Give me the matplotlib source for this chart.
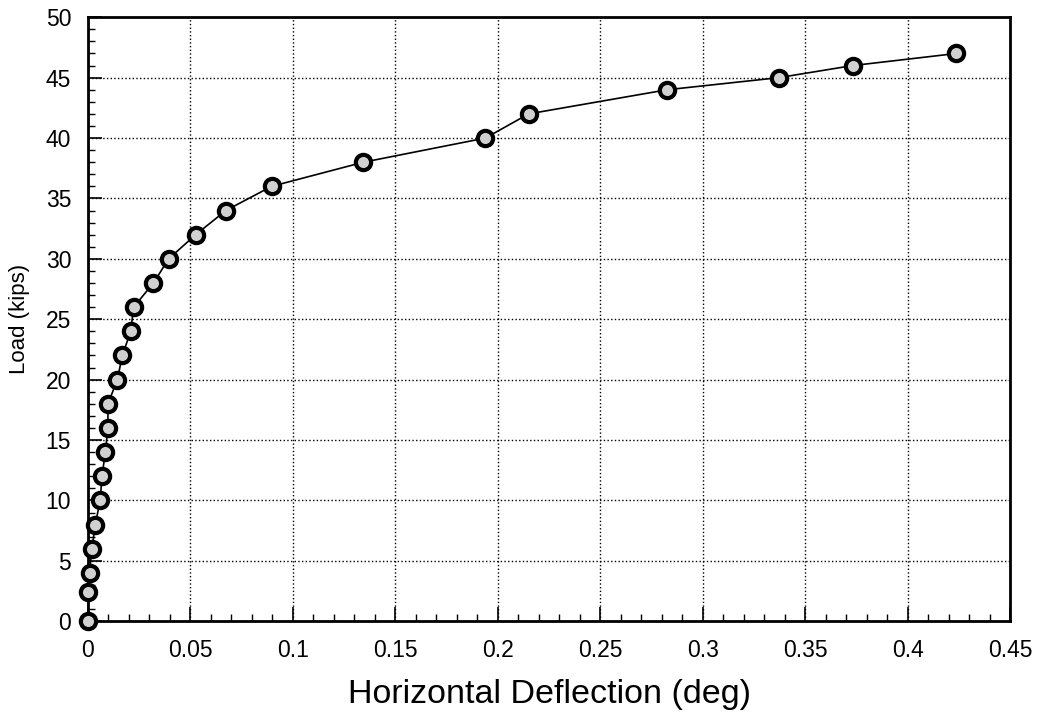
import matplotlib.pyplot as plt
from matplotlib.ticker import MultipleLocator

# load - deflection readings
deflection = [0.0, 0.0003, 0.0008, 0.0020, 0.0036, 0.0060, 0.0069, 0.0085, 0.0098, 0.0098,
              0.0144, 0.0168, 0.0209, 0.0223, 0.0320, 0.0394, 0.0526, 0.0673, 0.0896,
              0.1344, 0.1939, 0.2150, 0.2826, 0.3370, 0.3730, 0.4236]
load = [0, 2.4, 4, 6, 8, 10, 12, 14, 16, 18,
        20, 22, 24, 26, 28, 30, 32, 34, 36,
        38, 40, 42, 44, 45, 46, 47]
xticks = [0, 0.05, 0.1, 0.15, 0.2, 0.25, 0.3, 0.35, 0.4, 0.45]
xticklabels = ['0', '0.05', '0.1', '0.15', '0.2', '0.25', '0.3', '0.35', '0.4', '0.45']

plt.rcParams['font.family'] = ['Liberation Sans', 'DejaVu Sans']

fig = plt.figure(figsize=(10.46, 7.19), dpi=100)
ax = fig.add_axes([0.084, 0.136, 0.882, 0.840])

ax.plot(deflection, load, color='black', linewidth=1.2, marker='o', markersize=11,
        markerfacecolor='#d0d0d0', markeredgecolor='black', markeredgewidth=3,
        zorder=3, clip_on=False)

ax.set_xlim(0, 0.45)
ax.set_ylim(0, 50)
ax.set_xticks(xticks)
ax.set_xticklabels(xticklabels)
ax.xaxis.set_minor_locator(MultipleLocator(0.01))
ax.yaxis.set_major_locator(MultipleLocator(5))
ax.yaxis.set_minor_locator(MultipleLocator(1))

ax.tick_params(which='major', direction='in', length=10, width=1.2, labelsize=16.5)
ax.tick_params(axis='x', which='major', pad=13)
ax.tick_params(axis='y', which='major', pad=12)
ax.tick_params(which='minor', direction='in', length=5, width=1.0)

ax.grid(True, which='major', linestyle=':', color='black', linewidth=1.0)

for s in ax.spines.values():
    s.set_linewidth(2)

ax.set_xlabel('Horizontal Deflection (deg)', fontsize=24.5, va='center')
ax.set_ylabel('Load (kips)', fontsize=16, va='center')
ax.xaxis.set_label_coords(0.5, -0.121)
ax.yaxis.set_label_coords(-0.074, 0.5)

fig.savefig('out.png', dpi=100)
